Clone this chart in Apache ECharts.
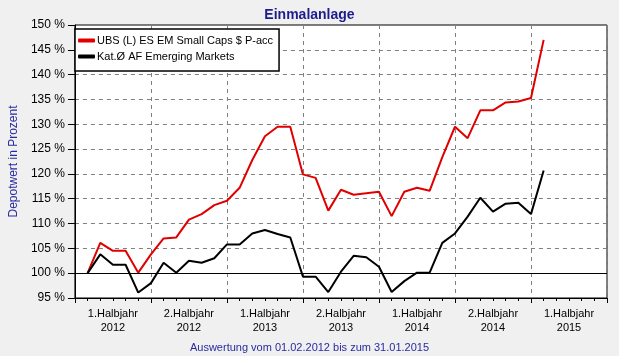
<!DOCTYPE html>
<html>
<head>
<meta charset="utf-8">
<script src="https://cdn.jsdelivr.net/npm/echarts@6/dist/echarts.min.js"></script>
<style>
html,body{margin:0;padding:0;background:#F0F0F0;}
#chart{width:619px;height:356px;}
</style>
</head>
<body>
<div id="chart"></div>
<script>
// Monthly dates (1st of month)
const dates = ['2012-02','2012-03','2012-04','2012-05','2012-06','2012-07','2012-08','2012-09','2012-10','2012-11','2012-12',
  '2013-01','2013-02','2013-03','2013-04','2013-05','2013-06','2013-07','2013-08','2013-09','2013-10','2013-11','2013-12',
  '2014-01','2014-02','2014-03','2014-04','2014-05','2014-06','2014-07','2014-08','2014-09','2014-10','2014-11','2014-12',
  '2015-01','2015-02'];
const ubsValues = [100,106.1,104.5,104.5,100.1,103.8,107.0,107.2,110.8,111.9,113.7,114.6,117.2,122.8,127.6,129.5,129.5,
  119.9,119.2,112.6,116.8,115.8,116.1,116.4,111.5,116.4,117.2,116.6,123.4,129.5,127.2,132.8,132.8,134.4,134.6,135.3,147.0];
const katValues = [100,103.8,101.7,101.7,96.1,98.0,102.1,100.1,102.5,102.1,103.0,105.8,105.8,108.0,108.7,107.9,107.2,
  99.3,99.3,96.2,100.3,103.5,103.2,101.3,96.2,98.4,100.1,100.1,106.1,108.0,111.4,115.2,112.4,114.0,114.2,111.9,120.7];
const seriesNames = ['UBS (L) ES EM Small Caps $ P-acc','Kat.Ø AF Emerging Markets'];
const xLabels = ['1.Halbjahr\n2012','2.Halbjahr\n2012','1.Halbjahr\n2013','2.Halbjahr\n2013','1.Halbjahr\n2014','2.Halbjahr\n2014','1.Halbjahr\n2015'];
const yTickFormat = '{value} %';

function monthIdx(s){ const p = s.split('-'); return (parseInt(p[0])-2012)*12 + (parseInt(p[1])-1); }
const ubsData = dates.map((d,i)=>[monthIdx(d), ubsValues[i]]);
const katData = dates.map((d,i)=>[monthIdx(d), katValues[i]]);

const FONT = '"Liberation Sans", Arial, sans-serif';
const chart = echarts.init(document.getElementById('chart'), null, {renderer:'canvas'});
chart.setOption({
  backgroundColor:'#F0F0F0',
  animation:false,
  textStyle:{fontFamily:FONT},
  title:[
    {text:'Einmalanlage', left:'center', top:8, padding:0,
     textStyle:{fontSize:14, fontWeight:'bold', color:'#1c1c8c', fontFamily:FONT}},
    {text:'Auswertung vom 01.02.2012 bis zum 31.01.2015', left:'center', top:342, padding:0,
     textStyle:{fontSize:11, fontWeight:'normal', color:'#2a2aa0', fontFamily:FONT}}
  ],
  legend:{
    orient:'vertical', left:75, top:29, padding:[5,6,8,3], itemGap:3,
    backgroundColor:'#fff', borderColor:'#000', borderWidth:1.5,
    itemWidth:17, itemHeight:4, icon:'roundRect',
    textStyle:{fontSize:11, color:'#000', fontFamily:FONT, padding:[0,0,0,-3], lineHeight:13},
    data:seriesNames
  },
  grid:{left:67, right:12, top:25, bottom:58, show:true, backgroundColor:'#fff', borderColor:'#000', borderWidth:1},
  xAxis:[
    {type:'value', min:0, max:42, interval:6,
     axisLine:{show:true, lineStyle:{color:'#000'}},
     axisTick:{show:true, length:5, lineStyle:{color:'#000'}},
     minorTick:{show:true, splitNumber:6, length:3, lineStyle:{color:'#000'}},
     axisLabel:{show:false},
     splitLine:{show:true, lineStyle:{color:'#808080', type:[4,4], width:1}}},
    {type:'value', min:0, max:42, interval:3, position:'bottom',
     axisLine:{show:false}, axisTick:{show:false}, splitLine:{show:false},
     axisLabel:{show:true, margin:9, fontSize:11, lineHeight:14, color:'#000', fontFamily:FONT,
       showMinLabel:false, showMaxLabel:false,
       formatter:function(v){ return (v%6===3) ? xLabels[(v-3)/6] : ''; }}}
  ],
  yAxis:{type:'value', min:95, max:150, interval:5,
    name:'Depotwert in Prozent', nameLocation:'middle', nameGap:50, nameRotate:90,
    nameTextStyle:{fontSize:12, color:'#2a2aa0', fontFamily:FONT},
    axisLine:{show:true, lineStyle:{color:'#000'}},
    axisTick:{show:true, length:7, lineStyle:{color:'#000'}},
    axisLabel:{formatter:yTickFormat, fontSize:12, color:'#000', margin:10, fontFamily:FONT},
    splitLine:{show:true, lineStyle:{color:'#808080', type:[4,4], width:1}}
  },
  series:[
    {name:seriesNames[0], type:'line', data:ubsData, showSymbol:false, symbol:'none',
     lineStyle:{color:'#e00000', width:2}, itemStyle:{color:'#e00000'}, z:3},
    {name:seriesNames[1], type:'line', data:katData, showSymbol:false, symbol:'none',
     lineStyle:{color:'#000', width:2}, itemStyle:{color:'#000'}, z:4,
     markLine:{silent:true, symbol:'none', label:{show:false},
       lineStyle:{color:'#000', type:'solid', width:1}, data:[{yAxis:100}]}}
  ]
});
</script>
</body>
</html>
